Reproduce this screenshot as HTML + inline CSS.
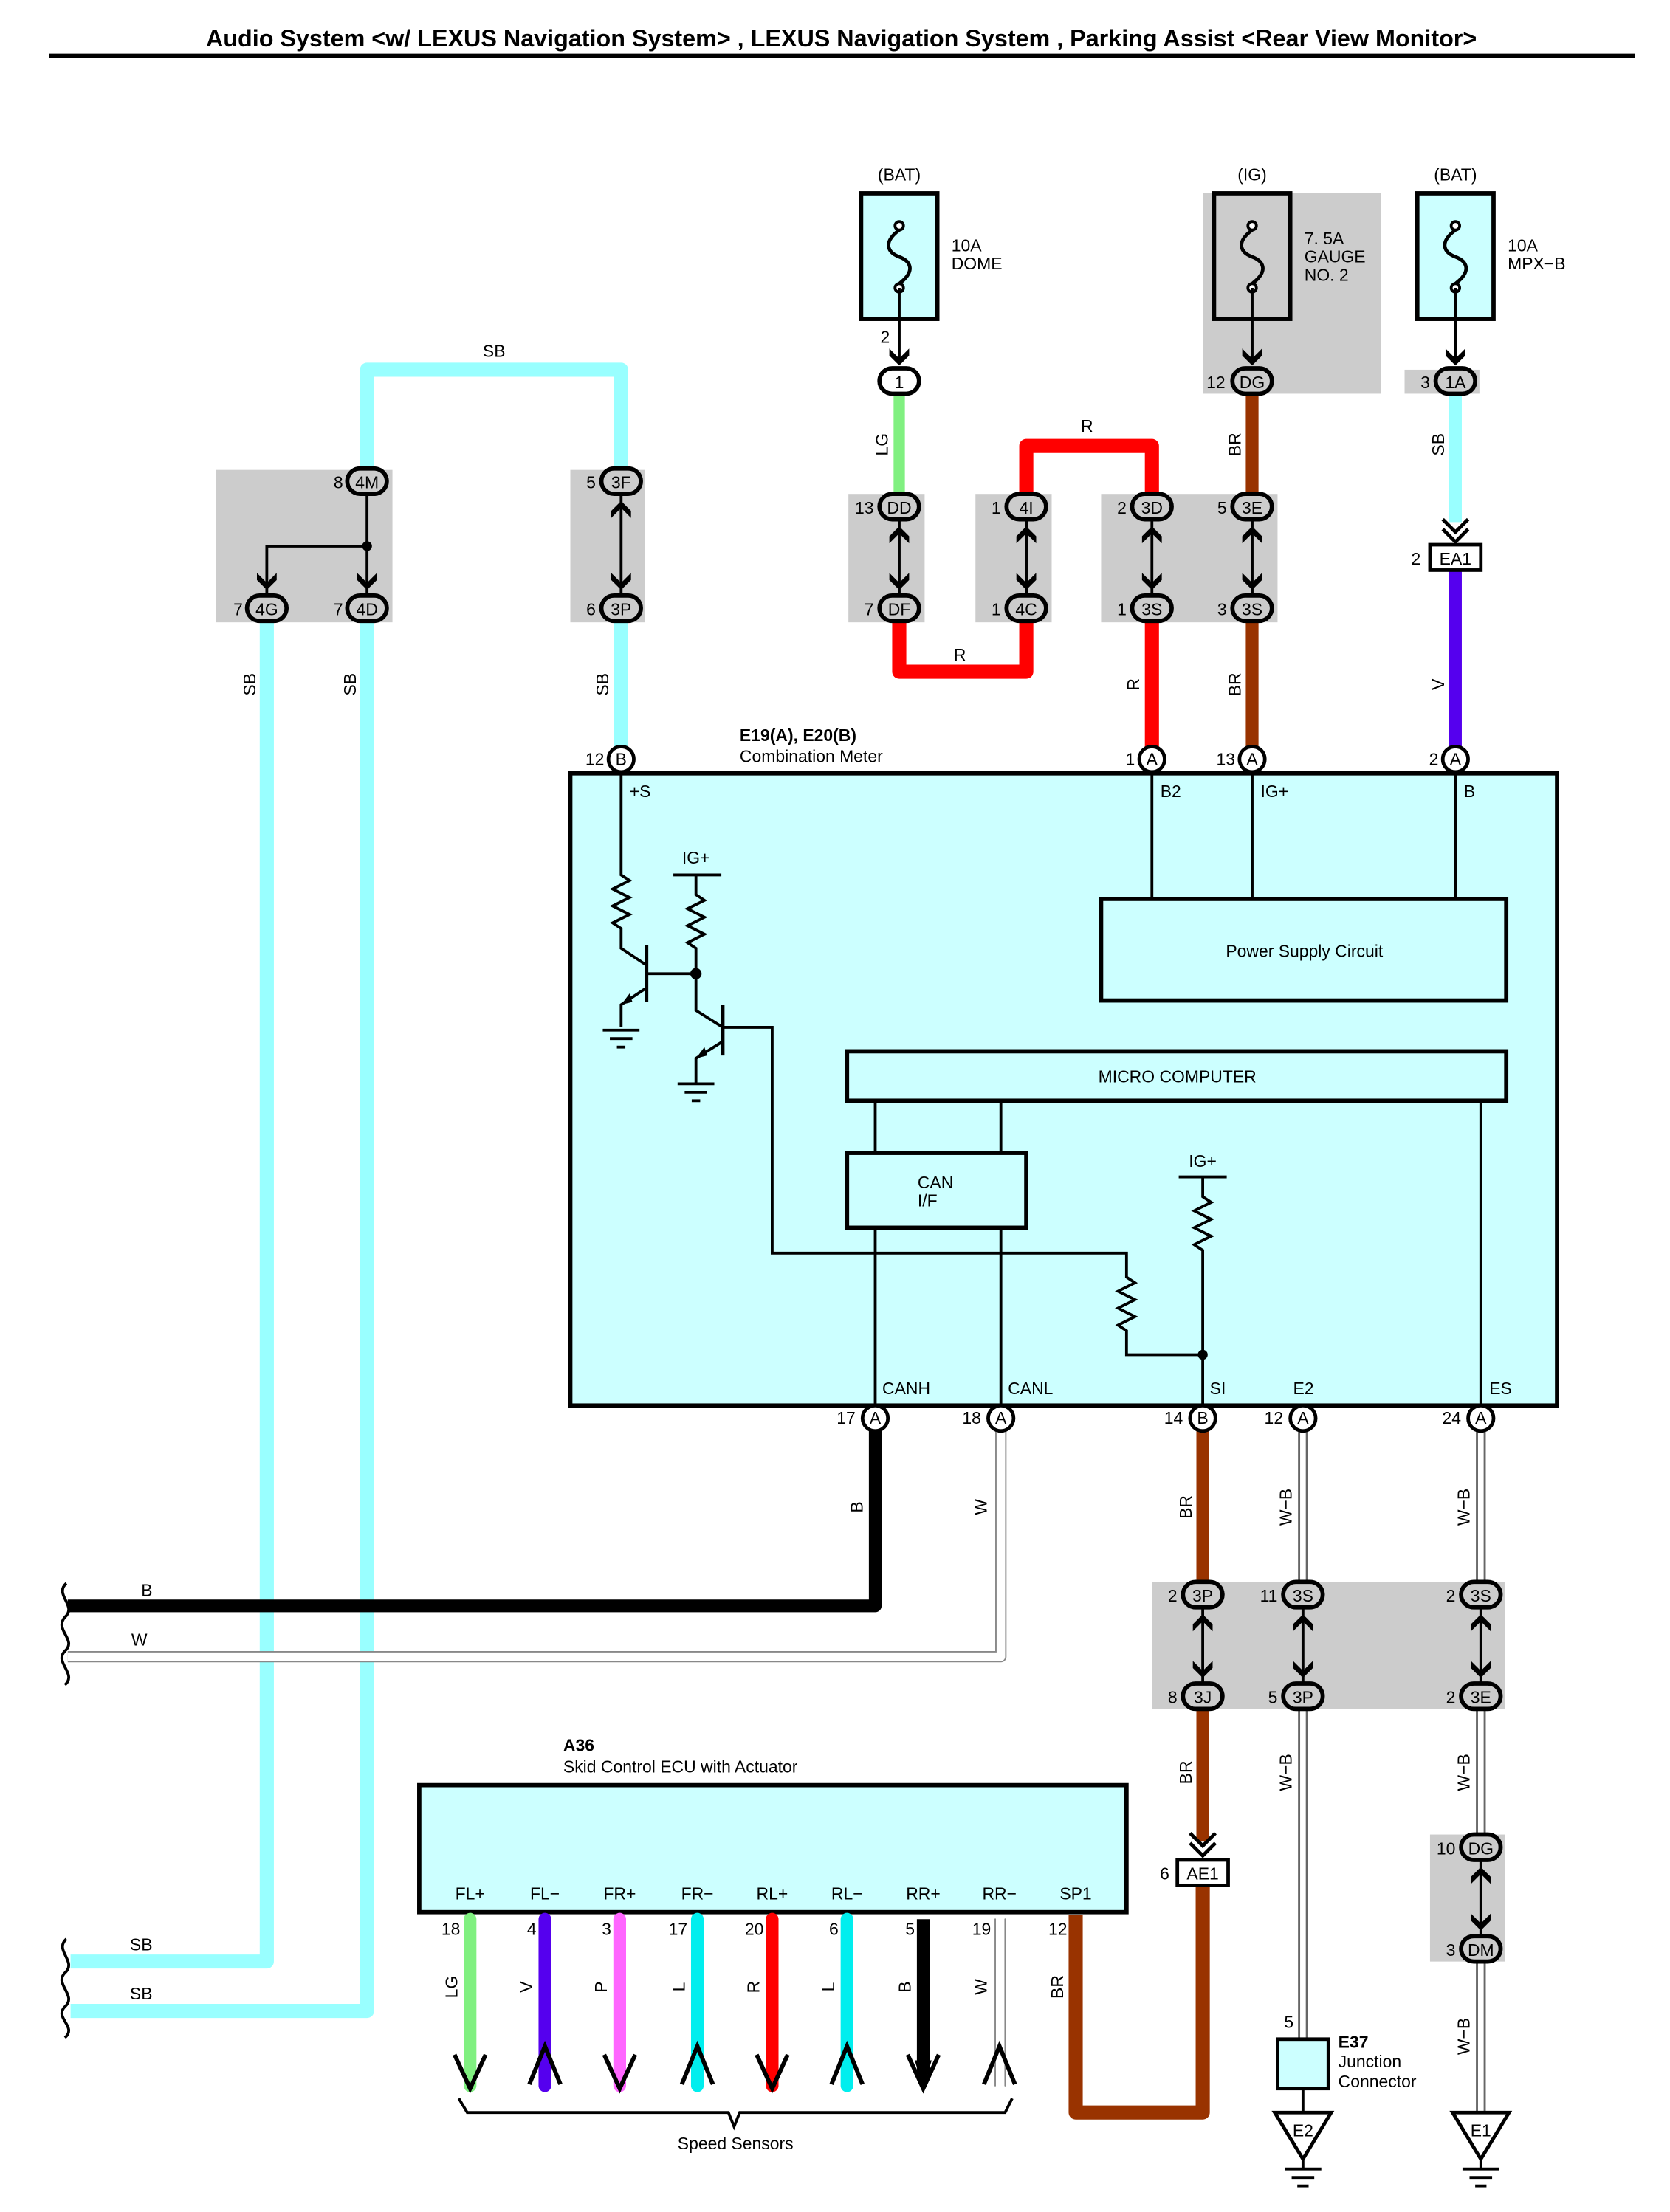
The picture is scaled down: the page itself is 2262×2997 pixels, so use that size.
<!DOCTYPE html>
<html><head><meta charset="utf-8"><style>
html,body{margin:0;padding:0;background:#fff}
svg{display:block}
text{font-family:"Liberation Sans",sans-serif;font-size:12px;fill:#000}
.b{font-weight:bold}
</style></head><body>
<svg width="2262" height="2997" viewBox="0 0 1183 1567.5" preserveAspectRatio="none" xmlns="http://www.w3.org/2000/svg">
<defs>
<g id="dn"><path d="M-7,-8 L0,-1 L7,-8 L7,-3 L0,4 L-7,-3Z" fill="#000"/></g>
<g id="up"><path d="M-7,8 L0,1 L7,8 L7,3 L0,-4 L-7,3Z" fill="#000"/></g>
<g id="gnd"><path d="M-20,0 L20,0 L0,33Z" fill="#fff" stroke="#000" stroke-width="2.5"/><line x1="0" y1="33" x2="0" y2="40" stroke="#000" stroke-width="2"/><line x1="-13" y1="40" x2="13" y2="40" stroke="#000" stroke-width="2"/><line x1="-8" y1="46" x2="8" y2="46" stroke="#000" stroke-width="2"/><line x1="-4" y1="52" x2="4" y2="52" stroke="#000" stroke-width="2"/></g>
<g id="fuse"><circle cx="0" cy="-22" r="3" fill="#fff" stroke="#000" stroke-width="2"/><circle cx="0" cy="22" r="3" fill="#fff" stroke="#000" stroke-width="2"/><path d="M0,-19 C-12,-10 -8,-3 0,0 C8,3 12,10 0,19" fill="none" stroke="#000" stroke-width="2.5"/></g>
<g id="sgnd"><line x1="-13" y1="0" x2="13" y2="0" stroke="#000" stroke-width="2"/><line x1="-8" y1="6" x2="8" y2="6" stroke="#000" stroke-width="2"/><line x1="-3" y1="12" x2="3" y2="12" stroke="#000" stroke-width="2"/></g>
</defs>

<text x="596" y="33" text-anchor="middle" class="b" style="font-size:16.9px">Audio System &lt;w/ LEXUS Navigation System&gt; , LEXUS Navigation System , Parking Assist &lt;Rear View Monitor&gt;</text>
<line x1="35" y1="39.5" x2="1158" y2="39.5" stroke="#000" stroke-width="3"/>

<g fill="#cccccc">
<rect x="852" y="137" width="126" height="142"/>
<rect x="995" y="262" width="53" height="17"/>
<rect x="601" y="350" width="54" height="91"/>
<rect x="691" y="350" width="54" height="91"/>
<rect x="780" y="350" width="125" height="91"/>
<rect x="153" y="333" width="125" height="108"/>
<rect x="404" y="333" width="53" height="108"/>
<rect x="816" y="1121" width="250" height="90"/>
<rect x="1013" y="1300" width="53" height="90"/>
</g>

<text x="637" y="128" text-anchor="middle">(BAT)</text>
<rect x="610" y="137" width="54" height="89" fill="#ccffff" stroke="#000" stroke-width="3"/>
<use href="#fuse" x="637" y="182"/>
<text x="674" y="178">10A</text><text x="674" y="191">DOME</text>
<text x="887" y="128" text-anchor="middle">(IG)</text>
<rect x="860" y="137" width="54" height="89" fill="#cccccc" stroke="#000" stroke-width="3"/>
<use href="#fuse" x="887" y="182"/>
<text x="924" y="173">7. 5A</text><text x="924" y="186">GAUGE</text><text x="924" y="199">NO. 2</text>
<text x="1031" y="128" text-anchor="middle">(BAT)</text>
<rect x="1004" y="137" width="54" height="89" fill="#ccffff" stroke="#000" stroke-width="3"/>
<use href="#fuse" x="1031" y="182"/>
<text x="1068" y="178">10A</text><text x="1068" y="191">MPX−B</text>
<g stroke="#000" stroke-width="2">
<line x1="637" y1="204" x2="637" y2="258"/><line x1="887" y1="204" x2="887" y2="258"/><line x1="1031" y1="204" x2="1031" y2="258"/>
</g>
<use href="#dn" x="637" y="255"/><use href="#dn" x="887" y="255"/><use href="#dn" x="1031" y="255"/>
<text x="627" y="243" text-anchor="middle">2</text>

<g fill="none" stroke-linejoin="round">
<path d="M637,280 V350" stroke="#80f080" stroke-width="8"/>
<path d="M637,441 V476 H727 V441" stroke="#ff0000" stroke-width="10"/>
<path d="M727,350 V316 H816 V350" stroke="#ff0000" stroke-width="10"/>
<path d="M816,441 V530" stroke="#ff0000" stroke-width="10"/>
<path d="M887,280 V350 M887,441 V530" stroke="#993300" stroke-width="9"/>
<path d="M1031,280 V370" stroke="#99ffff" stroke-width="9"/>
<path d="M1031,404 V530" stroke="#5500ee" stroke-width="9"/>
<path d="M260,333 V262 H440 V333" stroke="#99ffff" stroke-width="10"/>
<path d="M440,441 V530" stroke="#99ffff" stroke-width="10"/>
<path d="M189,441 V1390 H50" stroke="#99ffff" stroke-width="10"/>
<path d="M260,441 V1425 H50" stroke="#99ffff" stroke-width="10"/>
<path d="M620,1013 V1138 H48" stroke="#000" stroke-width="9"/>
<path d="M709,1013 V1174 H48" stroke="#888" stroke-width="8"/>
<path d="M709,1013 V1174 H48" stroke="#fff" stroke-width="6"/>
<path d="M852,1013 V1121 M852,1211 V1305" stroke="#993300" stroke-width="9"/>
<path d="M852,1336 V1497 H762 V1357" stroke="#993300" stroke-width="10"/>
<path d="M923,1013 V1121 M923,1211 V1445 M1049,1013 V1121 M1049,1211 V1300 M1049,1390 V1497" stroke="#666" stroke-width="7"/>
<path d="M923,1013 V1121 M923,1211 V1445 M1049,1013 V1121 M1049,1211 V1300 M1049,1390 V1497" stroke="#fff" stroke-width="4"/>
<path d="M923,1480 V1497" stroke="#000" stroke-width="2"/>
</g>

<g fill="none" stroke="#000" stroke-width="2">
<path d="M47,1122 C38,1130 55,1138 46,1146 C38,1155 55,1162 46,1170 C38,1178 55,1186 46,1194"/>
<path d="M47,1374 C38,1382 55,1390 46,1398 C38,1406 55,1414 46,1422 C38,1430 55,1436 46,1444"/>
</g>

<g stroke="#000" stroke-width="2">
<line x1="637" y1="368" x2="637" y2="422"/><line x1="727" y1="368" x2="727" y2="422"/>
<line x1="816" y1="368" x2="816" y2="422"/><line x1="887" y1="368" x2="887" y2="422"/>
<line x1="440" y1="350" x2="440" y2="422"/>
<line x1="852" y1="1139" x2="852" y2="1193"/><line x1="923" y1="1139" x2="923" y2="1193"/>
<line x1="1049" y1="1139" x2="1049" y2="1193"/><line x1="1049" y1="1318" x2="1049" y2="1372"/>
<path d="M260,350 V420 M260,387 H189 V420" fill="none"/>
</g>
<circle cx="260" cy="387" r="3.5"/>
<g>
<use href="#up" x="637" y="377"/><use href="#dn" x="637" y="414"/>
<use href="#up" x="727" y="377"/><use href="#dn" x="727" y="414"/>
<use href="#up" x="816" y="377"/><use href="#dn" x="816" y="414"/>
<use href="#up" x="887" y="377"/><use href="#dn" x="887" y="414"/>
<use href="#up" x="440" y="359"/><use href="#dn" x="440" y="414"/>
<use href="#dn" x="260" y="414"/><use href="#dn" x="189" y="414"/>
<use href="#up" x="852" y="1148"/><use href="#dn" x="852" y="1185"/>
<use href="#up" x="923" y="1148"/><use href="#dn" x="923" y="1185"/>
<use href="#up" x="1049" y="1148"/><use href="#dn" x="1049" y="1185"/>
<use href="#up" x="1049" y="1327"/><use href="#dn" x="1049" y="1364"/>
</g>
<g fill="none" stroke="#000" stroke-width="2.5">
<path d="M1022,368 L1031,377 L1040,368 M1022,375 L1031,384 L1040,375"/>
<path d="M843,1299 L852,1308 L861,1299 M843,1306 L852,1315 L861,1306"/>
</g>
<rect x="1013" y="386" width="36" height="18" fill="#fff" stroke="#000" stroke-width="2.5"/><text x="1031" y="400" text-anchor="middle">EA1</text><text x="1003" y="400" text-anchor="middle">2</text>
<rect x="834" y="1318" width="36" height="18" fill="#fff" stroke="#000" stroke-width="2.5"/><text x="852" y="1332" text-anchor="middle">AE1</text><text x="825" y="1332" text-anchor="middle">6</text>

<g stroke="#000" stroke-width="3">
<rect x="623" y="261" width="28" height="18" rx="9" fill="#fff"/>
<rect x="873" y="261" width="28" height="18" rx="9" fill="#ccc"/>
<rect x="1017" y="261" width="28" height="18" rx="9" fill="#ccc"/>
<rect x="623" y="350" width="28" height="18" rx="9" fill="#ccc"/>
<rect x="623" y="422" width="28" height="18" rx="9" fill="#ccc"/>
<rect x="713" y="350" width="28" height="18" rx="9" fill="#ccc"/>
<rect x="713" y="422" width="28" height="18" rx="9" fill="#ccc"/>
<rect x="802" y="350" width="28" height="18" rx="9" fill="#ccc"/>
<rect x="802" y="422" width="28" height="18" rx="9" fill="#ccc"/>
<rect x="873" y="350" width="28" height="18" rx="9" fill="#ccc"/>
<rect x="873" y="422" width="28" height="18" rx="9" fill="#ccc"/>
<rect x="246" y="332" width="28" height="18" rx="9" fill="#ccc"/>
<rect x="175" y="422" width="28" height="18" rx="9" fill="#ccc"/>
<rect x="246" y="422" width="28" height="18" rx="9" fill="#ccc"/>
<rect x="426" y="332" width="28" height="18" rx="9" fill="#ccc"/>
<rect x="426" y="422" width="28" height="18" rx="9" fill="#ccc"/>
<rect x="838" y="1121" width="28" height="18" rx="9" fill="#ccc"/>
<rect x="838" y="1193" width="28" height="18" rx="9" fill="#ccc"/>
<rect x="909" y="1121" width="28" height="18" rx="9" fill="#ccc"/>
<rect x="909" y="1193" width="28" height="18" rx="9" fill="#ccc"/>
<rect x="1035" y="1121" width="28" height="18" rx="9" fill="#ccc"/>
<rect x="1035" y="1193" width="28" height="18" rx="9" fill="#ccc"/>
<rect x="1035" y="1300" width="28" height="18" rx="9" fill="#ccc"/>
<rect x="1035" y="1372" width="28" height="18" rx="9" fill="#ccc"/>
</g>
<g text-anchor="middle">
<text x="637" y="275">1</text><text x="887" y="275">DG</text><text x="1031" y="275">1A</text>
<text x="637" y="364">DD</text><text x="637" y="436">DF</text>
<text x="727" y="364">4I</text><text x="727" y="436">4C</text>
<text x="816" y="364">3D</text><text x="816" y="436">3S</text>
<text x="887" y="364">3E</text><text x="887" y="436">3S</text>
<text x="260" y="346">4M</text><text x="189" y="436">4G</text><text x="260" y="436">4D</text>
<text x="440" y="346">3F</text><text x="440" y="436">3P</text>
<text x="852" y="1135">3P</text><text x="852" y="1207">3J</text>
<text x="923" y="1135">3S</text><text x="923" y="1207">3P</text>
<text x="1049" y="1135">3S</text><text x="1049" y="1207">3E</text>
<text x="1049" y="1314">DG</text><text x="1049" y="1386">DM</text>
</g>
<g text-anchor="end">
<text x="868" y="275">12</text><text x="1013" y="275">3</text>
<text x="619" y="364">13</text><text x="619" y="436">7</text>
<text x="709" y="364">1</text><text x="709" y="436">1</text>
<text x="798" y="364">2</text><text x="798" y="436">1</text>
<text x="869" y="364">5</text><text x="869" y="436">3</text>
<text x="243" y="346">8</text><text x="172" y="436">7</text><text x="243" y="436">7</text>
<text x="422" y="346">5</text><text x="422" y="436">6</text>
<text x="834" y="1135">2</text><text x="834" y="1207">8</text>
<text x="905" y="1135">11</text><text x="905" y="1207">5</text>
<text x="1031" y="1135">2</text><text x="1031" y="1207">2</text>
<text x="1031" y="1314">10</text><text x="1031" y="1386">3</text>
</g>

<text x="350" y="253" text-anchor="middle">SB</text>
<text x="770" y="306" text-anchor="middle">R</text>
<text x="680" y="468" text-anchor="middle">R</text>
<text x="100" y="1131">B</text><text x="93" y="1166">W</text>
<text x="92" y="1382">SB</text><text x="92" y="1417">SB</text>
<g text-anchor="middle">
<text transform="translate(629,315) rotate(-90)">LG</text>
<text transform="translate(879,315) rotate(-90)">BR</text>
<text transform="translate(1023,315) rotate(-90)">SB</text>
<text transform="translate(807,485) rotate(-90)">R</text>
<text transform="translate(879,485) rotate(-90)">BR</text>
<text transform="translate(1023,485) rotate(-90)">V</text>
<text transform="translate(181,485) rotate(-90)">SB</text>
<text transform="translate(252,485) rotate(-90)">SB</text>
<text transform="translate(431,485) rotate(-90)">SB</text>
<text transform="translate(611,1068) rotate(-90)">B</text>
<text transform="translate(699,1068) rotate(-90)">W</text>
<text transform="translate(844,1068) rotate(-90)">BR</text>
<text transform="translate(915,1068) rotate(-90)">W−B</text>
<text transform="translate(1041,1068) rotate(-90)">W−B</text>
<text transform="translate(844,1256) rotate(-90)">BR</text>
<text transform="translate(915,1256) rotate(-90)">W−B</text>
<text transform="translate(1041,1256) rotate(-90)">W−B</text>
<text transform="translate(1041,1443) rotate(-90)">W−B</text>
</g>

<rect x="404" y="548" width="699" height="448" fill="#ccffff" stroke="#000" stroke-width="3"/>
<text x="524" y="525" class="b">E19(A), E20(B)</text>
<text x="524" y="540">Combination Meter</text>
<g stroke="#000" stroke-width="2" fill="none">
<line x1="816" y1="548" x2="816" y2="637"/><line x1="887" y1="548" x2="887" y2="637"/><line x1="1031" y1="548" x2="1031" y2="637"/>
<line x1="620" y1="780" x2="620" y2="996"/><line x1="709" y1="780" x2="709" y2="996"/>
<line x1="1049" y1="780" x2="1049" y2="996"/>
<path d="M440,548 V620 l6,4 -12,6 12,6 -12,6 12,6 -12,6 6,4 V672 L458,684"/>
<line x1="458" y1="670" x2="458" y2="710" stroke-width="2.5"/>
<path d="M458,690 H493"/>
<path d="M458,700 L440,712 V728"/>
<line x1="477" y1="620" x2="511" y2="620"/>
<path d="M493,620 V634 l6,4 -12,6 12,6 -12,6 12,6 -12,6 6,4 V716 L512,728"/>
<line x1="512" y1="712" x2="512" y2="748" stroke-width="2.5"/>
<path d="M512,738 L493,750 V768"/>
<path d="M512,728 H547 V888 H798 V905 l6,4 -12,6 12,6 -12,6 12,6 -12,6 6,4 V960 H852"/>
<line x1="835" y1="834" x2="869" y2="834"/>
<path d="M852,834 V848 l6,4 -12,6 12,6 -12,6 12,6 -12,6 6,4 V996"/>
</g>
<circle cx="493" cy="690" r="4"/><circle cx="852" cy="960" r="3.5"/>
<path d="M440,712 l6,-8 2,6z" fill="#000"/><path d="M493,750 l6,-8 2,6z" fill="#000"/>
<use href="#sgnd" x="440" y="730"/><use href="#sgnd" x="493" y="768"/>
<text x="493" y="612" text-anchor="middle">IG+</text>
<text x="852" y="827" text-anchor="middle">IG+</text>
<rect x="780" y="637" width="287" height="72" fill="none" stroke="#000" stroke-width="3"/>
<text x="924" y="678" text-anchor="middle">Power Supply Circuit</text>
<rect x="600" y="745" width="467" height="35" fill="none" stroke="#000" stroke-width="3"/>
<text x="834" y="767" text-anchor="middle">MICRO COMPUTER</text>
<rect x="600" y="817" width="127" height="53" fill="#ccffff" stroke="#000" stroke-width="3"/>
<text x="650" y="842">CAN</text><text x="650" y="855">I/F</text>
<text x="446" y="565">+S</text><text x="822" y="565">B2</text><text x="893" y="565">IG+</text><text x="1037" y="565">B</text>
<text x="625" y="988">CANH</text><text x="714" y="988">CANL</text><text x="857" y="988">SI</text><text x="916" y="988">E2</text><text x="1055" y="988">ES</text>
<g fill="#fff" stroke="#000" stroke-width="2.5">
<circle cx="440" cy="538" r="9"/><circle cx="816" cy="538" r="9"/><circle cx="887" cy="538" r="9"/><circle cx="1031" cy="538" r="9"/>
<circle cx="620" cy="1005" r="9"/><circle cx="709" cy="1005" r="9"/><circle cx="852" cy="1005" r="9"/><circle cx="923" cy="1005" r="9"/><circle cx="1049" cy="1005" r="9"/>
</g>
<g text-anchor="middle" style="font-size:11px">
<text x="440" y="542">B</text><text x="816" y="542">A</text><text x="887" y="542">A</text><text x="1031" y="542">A</text>
<text x="620" y="1009">A</text><text x="709" y="1009">A</text><text x="852" y="1009">B</text><text x="923" y="1009">A</text><text x="1049" y="1009">A</text>
</g>
<g text-anchor="end">
<text x="428" y="542">12</text><text x="804" y="542">1</text><text x="875" y="542">13</text><text x="1019" y="542">2</text>
<text x="606" y="1009">17</text><text x="695" y="1009">18</text><text x="838" y="1009">14</text><text x="909" y="1009">12</text><text x="1035" y="1009">24</text>
</g>

<rect x="905" y="1445" width="36" height="35" fill="#ccffff" stroke="#000" stroke-width="2.5"/>
<text x="913" y="1437" text-anchor="middle">5</text>
<text x="948" y="1451" class="b">E37</text><text x="948" y="1465">Junction</text><text x="948" y="1479">Connector</text>
<use href="#gnd" x="923" y="1497"/><use href="#gnd" x="1049" y="1497"/>
<text x="923" y="1514" text-anchor="middle">E2</text><text x="1049" y="1514" text-anchor="middle">E1</text>

<text x="399" y="1241" class="b">A36</text>
<text x="399" y="1256">Skid Control ECU with Actuator</text>
<rect x="297" y="1265" width="501" height="90" fill="#ccffff" stroke="#000" stroke-width="3"/>
<g text-anchor="middle">
<text x="333" y="1346">FL+</text><text x="386" y="1346">FL−</text><text x="439" y="1346">FR+</text><text x="494" y="1346">FR−</text><text x="547" y="1346">RL+</text><text x="600" y="1346">RL−</text><text x="654" y="1346">RR+</text><text x="708" y="1346">RR−</text><text x="762" y="1346">SP1</text>
</g>
<g stroke-linecap="round">
<line x1="333" y1="1360" x2="333" y2="1478" stroke="#80f080" stroke-width="9"/>
<line x1="386" y1="1360" x2="386" y2="1478" stroke="#5500ee" stroke-width="9"/>
<line x1="439" y1="1360" x2="439" y2="1478" stroke="#ff66ff" stroke-width="9"/>
<line x1="494" y1="1360" x2="494" y2="1478" stroke="#00eeee" stroke-width="9"/>
<line x1="547" y1="1360" x2="547" y2="1478" stroke="#ff0000" stroke-width="9"/>
<line x1="600" y1="1360" x2="600" y2="1478" stroke="#00eeee" stroke-width="9"/>
<line x1="654" y1="1360" x2="654" y2="1470" stroke="#000" stroke-width="9" stroke-linecap="butt"/>
<line x1="705" y1="1360" x2="705" y2="1478" stroke="#888" stroke-width="1"/>
<line x1="712" y1="1360" x2="712" y2="1478" stroke="#888" stroke-width="1"/>
</g>
<g fill="none" stroke="#000" stroke-width="3">
<path d="M322,1456 L333,1480 L344,1456"/><path d="M375,1477 L386,1450 L397,1477"/>
<path d="M428,1456 L439,1480 L450,1456"/><path d="M483,1477 L494,1450 L505,1477"/>
<path d="M536,1456 L547,1480 L558,1456"/><path d="M589,1477 L600,1450 L611,1477"/>
<path d="M643,1456 L654,1480 L665,1456"/><path d="M697,1477 L708,1450 L719,1477"/>
<path d="M325,1487 L331,1497 H516 L520,1507 L524,1497 H712 L717,1487" stroke-width="2"/>
</g>
<path d="M648,1460 L654,1480 L660,1460Z" fill="#000"/>
<text x="521" y="1523" text-anchor="middle">Speed Sensors</text>
<g text-anchor="end">
<text x="326" y="1371">18</text><text x="380" y="1371">4</text><text x="433" y="1371">3</text><text x="487" y="1371">17</text><text x="541" y="1371">20</text><text x="594" y="1371">6</text><text x="648" y="1371">5</text><text x="702" y="1371">19</text><text x="756" y="1371">12</text>
</g>
<g text-anchor="middle">
<text transform="translate(324,1408) rotate(-90)">LG</text>
<text transform="translate(377,1408) rotate(-90)">V</text>
<text transform="translate(430,1408) rotate(-90)">P</text>
<text transform="translate(485,1408) rotate(-90)">L</text>
<text transform="translate(538,1408) rotate(-90)">R</text>
<text transform="translate(591,1408) rotate(-90)">L</text>
<text transform="translate(645,1408) rotate(-90)">B</text>
<text transform="translate(699,1408) rotate(-90)">W</text>
<text transform="translate(753,1408) rotate(-90)">BR</text>
</g>
</svg>
</body></html>
